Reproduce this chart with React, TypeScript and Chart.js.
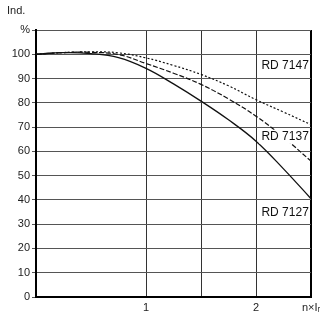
import React, { useEffect, useRef } from "react";
import { Chart, registerables } from "chart.js";

Chart.register(...registerables);

const xValues = [0, 0.25, 0.5, 0.75, 1, 1.25, 1.5, 1.75, 2, 2.25, 2.5];
const rd7147 = [100, 100.7, 101, 100.6, 98.5, 95.4, 91.7, 87, 81.3, 76.2, 71];
const rd7137 = [100, 100.7, 100.8, 99.9, 96.2, 92.2, 87.6, 81.6, 74.5, 65.8, 56];
const rd7127 = [100, 100.7, 100.3, 98.6, 94.2, 87.8, 80.7, 73, 64.2, 52.8, 40.5];
const seriesNames = ["RD 7147", "RD 7137", "RD 7127"];
const labelAnchors = [
  { x: 2.48, y: 95.5 },
  { x: 2.48, y: 66 },
  { x: 2.48, y: 34.7 },
];
const yTitle = "Ind.";
const xEndLabel = "n×Iᵣ";

const FONT = "'Liberation Sans', Arial, sans-serif";

const toPoints = (ys: number[]) => xValues.map((x, i) => ({ x, y: ys[i] }));

const annotationPlugin = {
  id: "annot",
  afterDatasetsDraw(chart: any) {
    const { ctx, scales } = chart;
    ctx.save();
    ctx.font = `12px ${FONT}`;
    ctx.textBaseline = "middle";
    seriesNames.forEach((name, i) => {
      const px = scales.x.getPixelForValue(labelAnchors[i].x);
      const py = scales.y.getPixelForValue(labelAnchors[i].y);
      const w = ctx.measureText(name).width;
      ctx.fillStyle = "#fff";
      ctx.fillRect(px - w - 2, py - 7, w + 3, 14);
      ctx.fillStyle = "#111";
      ctx.textAlign = "right";
      ctx.fillText(name, px, py);
    });
    ctx.textAlign = "left";
    ctx.textBaseline = "alphabetic";
    ctx.font = `11px ${FONT}`;
    ctx.fillStyle = "#222";
    ctx.fillText(yTitle, 7, 14);
    ctx.restore();
  },
};

export default function App() {
  const ref = useRef<HTMLCanvasElement>(null);
  useEffect(() => {
    document.body.style.margin = "0";
    const chart = new Chart(ref.current!, {
      type: "line",
      data: {
        datasets: [
          {
            label: seriesNames[0],
            data: toPoints(rd7147),
            borderColor: "#111",
            borderWidth: 1.2,
            borderDash: [2, 2],
            pointRadius: 0,
            tension: 0.4,
          },
          {
            label: seriesNames[1],
            data: toPoints(rd7137),
            borderColor: "#111",
            borderWidth: 1.2,
            borderDash: [5, 2],
            pointRadius: 0,
            tension: 0.4,
          },
          {
            label: seriesNames[2],
            data: toPoints(rd7127),
            borderColor: "#111",
            borderWidth: 1.3,
            pointRadius: 0,
            tension: 0.4,
          },
        ],
      },
      options: {
        animation: false,
        responsive: false,
        events: [],
        layout: { padding: { top: 30, right: 14, left: 0, bottom: 0 } },
        plugins: { legend: { display: false }, tooltip: { enabled: false } },
        scales: {
          x: {
            type: "linear",
            min: 0,
            max: 2.5,
            ticks: {
              stepSize: 0.5,
              color: "#222",
              font: { family: FONT, size: 11 },
              padding: 4,
              maxRotation: 0,
              autoSkip: false,
              callback: (v: any) =>
                v === 1 ? "1" : v === 2 ? "2" : v === 2.5 ? xEndLabel : "",
            },
            grid: {
              drawTicks: false,
              color: (c: any) => {
                const v = c.tick?.value;
                if (v === 1 || v === 1.5 || v === 2) return "#333";
                if (v === 2.5) return "#000";
                return "rgba(0,0,0,0)";
              },
              lineWidth: (c: any) => (c.tick?.value === 2.5 ? 2 : 1),
            },
            border: { color: "#000", width: 2 },
            afterFit: (s: any) => {
              s.height = 25;
            },
          },
          y: {
            min: 0,
            max: 110,
            ticks: {
              stepSize: 10,
              color: "#222",
              font: { family: FONT, size: 11 },
              padding: 2,
              callback: (v: any) => (v === 110 ? "%" : String(v)),
            },
            grid: {
              color: "#555",
              tickLength: 4,
              lineWidth: 1,
            },
            border: { color: "#000", width: 2 },
            afterFit: (s: any) => {
              s.width = 36;
            },
          },
        },
      },
      plugins: [annotationPlugin],
    });
    return () => chart.destroy();
  }, []);
  return (
    <div style={{ width: 325, height: 322, background: "#fff" }}>
      <canvas ref={ref} width={325} height={322} />
    </div>
  );
}
